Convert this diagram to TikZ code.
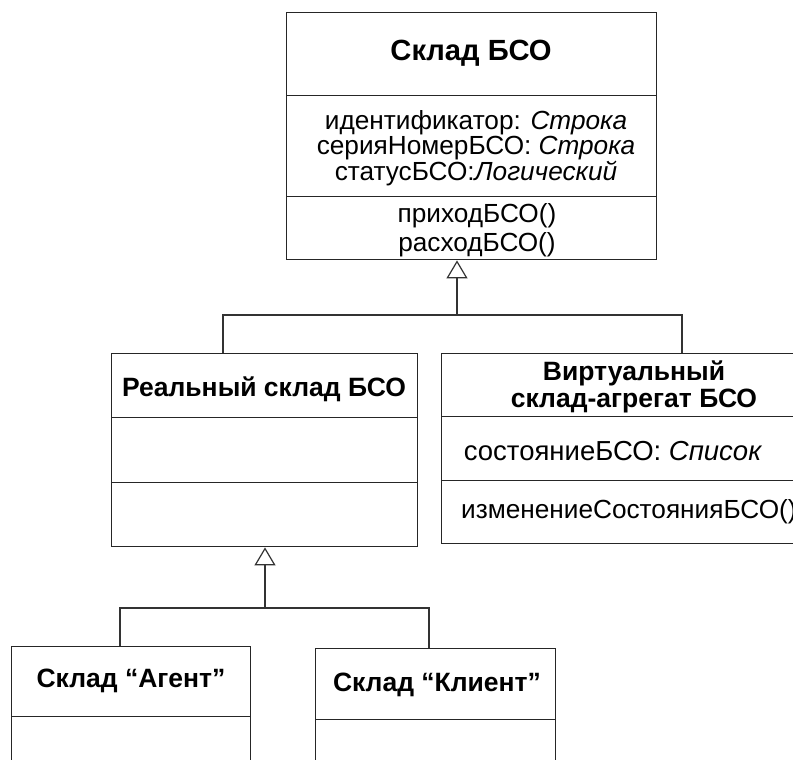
\documentclass[tikz,border=0pt]{standalone}
\usepackage{fontspec}
\setmainfont{Liberation Sans}
\usetikzlibrary{arrows.meta}
\begin{document}
\begin{tikzpicture}[x=1pt,y=-1pt,
  comp/.style={draw=black!85, line width=1.4pt, inner sep=0pt, anchor=north west},
  conn/.style={draw=black!80, line width=1.2pt},
  gen/.style={conn, -{Triangle[open, length=18pt, width=21pt]}},
  ttl/.style={inner sep=0pt, align=center, font=\fontsize{26.5}{27}\selectfont\bfseries},
  txt/.style={inner sep=0pt, align=center, font=\fontsize{26.2}{22.5}\selectfont}]
\useasboundingbox (0,0) rectangle (793,760);
\clip (0,0) rectangle (793,760);
\fill[white] (0,0) rectangle (793,760);

% class "Склад БСО"
\node[comp, minimum width=370pt, minimum height=83pt]  (s1) at (286,12)  {};
\node[comp, minimum width=370pt, minimum height=101pt] (s2) at (286,95)  {};
\node[comp, minimum width=370pt, minimum height=63pt]  (s3) at (286,196) {};
\node[ttl, font=\fontsize{29.2}{31}\selectfont\bfseries] (s1t) at (471,53) {Склад БСО};
\node[txt] (s2t) at (476,148) {идентификатор: \textit{Строка}\\серияНомерБСО: \textit{Строка}\\статусБСО:\textit{Логический}};
\node[txt, font=\fontsize{26.2}{28.5}\selectfont] (s3t) at (477,230) {приходБСО()\\расходБСО()};

% class "Реальный склад БСО"
\node[comp, minimum width=306pt, minimum height=64pt] (r1) at (111,353) {};
\node[comp, minimum width=306pt, minimum height=65pt] (r2) at (111,417) {};
\node[comp, minimum width=306pt, minimum height=64pt] (r3) at (111,482) {};
\node[ttl] (r1t) at (264,389) {Реальный склад БСО};

% class "Виртуальный склад-агрегат БСО"
\node[comp, minimum width=400pt, minimum height=63pt] (v1) at (441,353) {};
\node[comp, minimum width=400pt, minimum height=64pt] (v2) at (441,416) {};
\node[comp, minimum width=400pt, minimum height=63pt] (v3) at (441,480) {};
\node[ttl] (v1t) at (634,387) {Виртуальный\\склад-агрегат БСО};
\node[txt, font=\fontsize{27.5}{27}\selectfont] (v2t) at (613,451) {состояниеБСО: \textit{Список}};
\node[txt, anchor=west] (v3t) at (461,512) {изменениеСостоянияБСО()};

% classes "Склад “Агент”" and "Склад “Клиент”"
\node[comp, minimum width=239pt, minimum height=70pt] (a1) at (11,646) {};
\node[comp, minimum width=239pt, minimum height=90pt] (a2) at (11,716) {};
\node[ttl] (a1t) at (131,681) {Склад “Агент”};
\node[comp, minimum width=240pt, minimum height=71pt] (k1) at (315,648) {};
\node[comp, minimum width=240pt, minimum height=90pt] (k2) at (315,719) {};
\node[ttl] (k1t) at (437,685) {Склад “Клиент”};

% generalisation connectors
\coordinate (b1l) at (223,315);
\coordinate (b1m) at (457,315);
\coordinate (b1r) at (682,315);
\draw[conn] (b1l |- r1.north) -- (b1l) -- (b1r) -- (b1r |- v1.north);
\draw[gen] (b1m) -- (b1m |- s3.south);

\coordinate (b2l) at (120,608);
\coordinate (b2m) at (265,608);
\coordinate (b2r) at (429,608);
\draw[conn] (b2l |- a1.north) -- (b2l) -- (b2r) -- (b2r |- k1.north);
\draw[gen] (b2m) -- (b2m |- r3.south);
\end{tikzpicture}
\end{document}
